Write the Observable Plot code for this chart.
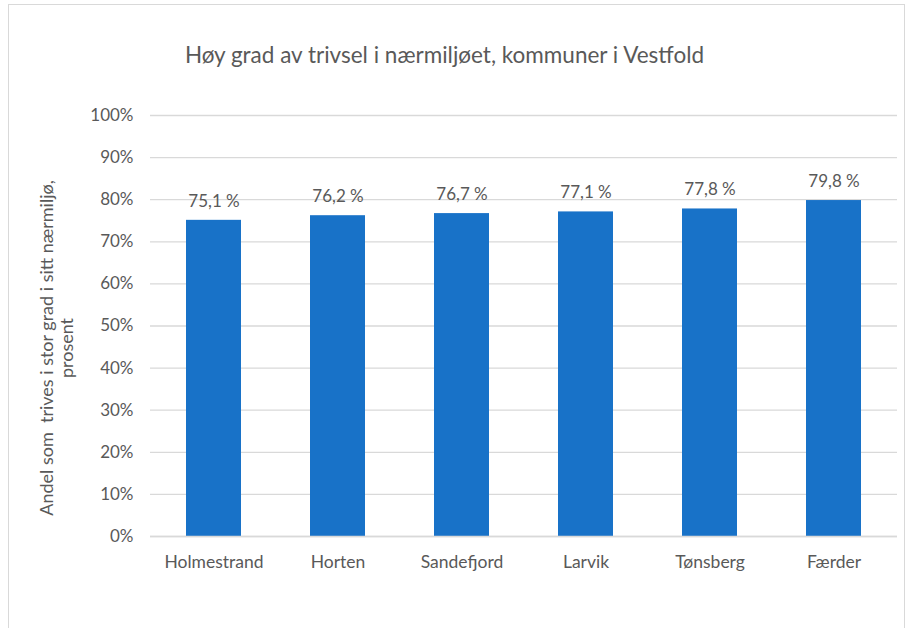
<!DOCTYPE html>
<html>
<head>
<meta charset="utf-8">
<script src="https://cdn.jsdelivr.net/npm/d3@7"></script>
<script src="https://cdn.jsdelivr.net/npm/@observablehq/plot@0.6"></script>
<style>
  html, body { margin: 0; padding: 0; background: #fff; }
  body { width: 909px; height: 628px; overflow: hidden; position: relative; font-family: Lato, "Open Sans", sans-serif; }
  #frame { position: absolute; left: 8px; top: 4px; width: 897px; height: 640px; border: 1px solid #d9d9d9; box-sizing: border-box; }
  #title { position: absolute; left: 0; top: 0; width: 889px; height: 80px; text-align: center; font-size: 22.5px; color: #595959; line-height: 110px; }
  #chart { position: absolute; left: 0; top: 80px; }
</style>
</head>
<body>
<div id="frame"></div>
<div id="title">Høy grad av trivsel i nærmiljøet, kommuner i Vestfold</div>
<div id="chart"></div>
<script>
const categories = ["Holmestrand", "Horten", "Sandefjord", "Larvik", "Tønsberg", "Færder"];
const values = [75.1, 76.2, 76.7, 77.1, 77.8, 79.8];
const yTicks = [0, 10, 20, 30, 40, 50, 60, 70, 80, 90, 100];
const yLabel = "Andel som  trives i stor grad i sitt nærmiljø,\nprosent";

const data = categories.map((c, i) => ({ kommune: c, verdi: values[i] }));
const fmt = v => v.toFixed(1).replace(".", ",") + " %";

const plot = Plot.plot({
  width: 909,
  height: 548,
  marginTop: 35,
  marginBottom: 92,
  marginLeft: 150,
  marginRight: 12,
  style: { fontFamily: "Lato, 'Open Sans', sans-serif", fontSize: "17px", color: "#595959", background: "transparent" },
  x: { domain: categories, paddingInner: 0.56, paddingOuter: 0.28, label: null },
  y: { domain: [0, 100], label: null },
  marks: [
    Plot.gridY(yTicks, { stroke: "#d9d9d9", strokeOpacity: 1, strokeWidth: 1.3 }),
    Plot.barY(data, { x: "kommune", y: "verdi", fill: "#1872c8" }),
    Plot.ruleY([0], { stroke: "#d9d9d9", strokeWidth: 1.5 }),
    Plot.text(data, { x: "kommune", y: "verdi", text: d => fmt(d.verdi), dy: -19, fill: "#595959", fontSize: 17 }),
    Plot.axisY(yTicks, { tickSize: 0, tickPadding: 17, tickFormat: d => d + "%", fill: "#595959", fontSize: 17, label: null }),
    Plot.axisX({ tickSize: 0, tickPadding: 19, fill: "#595959", fontSize: 17.5, label: null }),
    Plot.text([yLabel], { frameAnchor: "left", text: d => d, rotate: -90, textAnchor: "middle", dx: -93.5, dy: 22, fill: "#595959", fontSize: 18, lineHeight: 1.1 })
  ]
});
document.getElementById("chart").appendChild(plot);
</script>
</body>
</html>
